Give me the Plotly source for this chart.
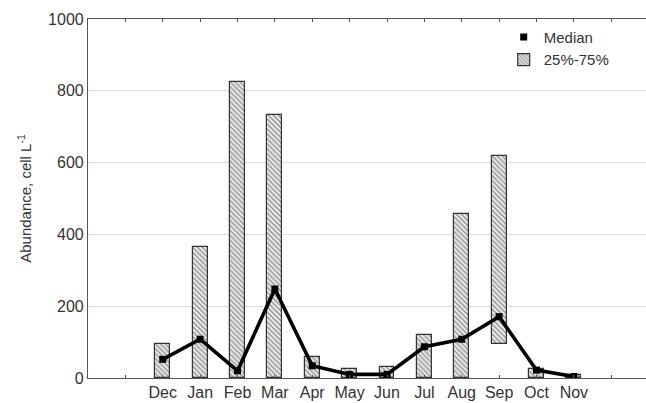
import plotly.graph_objects as go

# Monthly abundance: interquartile range (bars) and median (line)
months = ["Dec", "Jan", "Feb", "Mar", "Apr", "May", "Jun",
          "Jul", "Aug", "Sep", "Oct", "Nov"]
q25 = [0, 0, 0, 0, 0, 0, 0, 0, 0, 95, 0, 0]
q75 = [95, 365, 824, 733, 59, 24, 30, 120, 457, 619, 24, 7]
median = [52, 108, 20, 248, 34, 10, 10, 87, 108, 171, 22, 4]

xpos = list(range(len(months)))
font = dict(family="Liberation Sans, Arial, sans-serif", size=16, color="#333333")

fig = go.Figure()

fig.add_trace(go.Bar(
    x=xpos, y=[h - l for h, l in zip(q75, q25)], base=q25,
    width=0.4, name="25%-75%", legendrank=2,
    marker=dict(color="white",
                line=dict(color="#333333", width=1.2),
                pattern=dict(shape="\\", fgcolor="#444444", bgcolor="#f4f4f4",
                             size=3.5, solidity=0.5)),
))

fig.add_trace(go.Scatter(
    x=xpos, y=median, mode="lines", showlegend=False,
    line=dict(color="black", width=3.6),
))

fig.add_trace(go.Scatter(
    x=xpos, y=median, mode="markers", name="Median", legendrank=1,
    marker=dict(symbol="square", color="black", size=7),
))

ticks = list(range(-2, 14))
labels = [months[t] if 0 <= t < len(months) else "" for t in ticks]

fig.update_layout(
    width=646, height=403,
    margin=dict(l=88, r=0, t=19, b=25),
    paper_bgcolor="white", plot_bgcolor="white",
    font=font,
    bargap=0,
    legend=dict(x=0.745, y=0.995, xanchor="left", yanchor="top",
                bgcolor="rgba(0,0,0,0)", font=dict(size=15, color="#333333"),
                tracegroupgap=0, itemwidth=30),
    xaxis=dict(range=[-2, 12.93], tickmode="array", tickvals=ticks,
               ticktext=labels, showgrid=False, zeroline=False,
               showline=True, linecolor="#555555", linewidth=1.2,
               mirror="allticks", ticks="inside", ticklen=3,
               tickcolor="#555555", tickfont=font),
    yaxis=dict(range=[0, 1000], tickvals=[0, 200, 400, 600, 800, 1000],
               showgrid=True, gridcolor="#dddddd", gridwidth=1,
               zeroline=False, showline=True, linecolor="#555555",
               linewidth=1.2, ticks="", tickfont=font,
               title=dict(text="Abundance, cell L<sup>-1</sup>",
                          font=dict(size=15, color="#333333"), standoff=12)),
)

fig.write_html("out.html")
